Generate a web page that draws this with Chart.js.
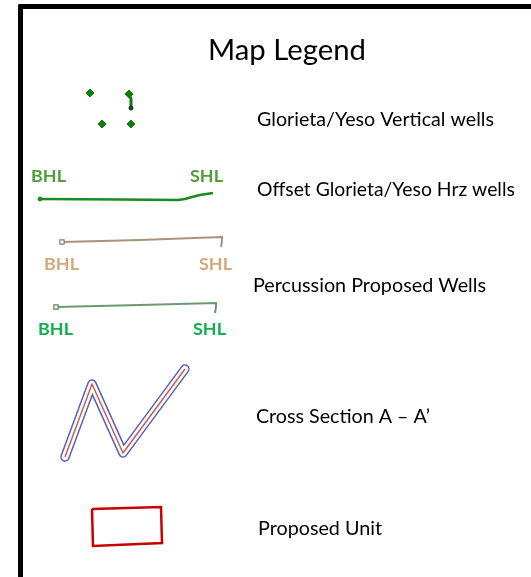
<!DOCTYPE html>
<html><head><meta charset="utf-8">
<script src="https://cdn.jsdelivr.net/npm/chart.js@4/dist/chart.umd.min.js"></script>
<style>
html,body{margin:0;padding:0;background:#fff;width:531px;height:577px;overflow:hidden}
#frame{position:absolute;left:18px;top:4px;width:513px;height:569px;border-left:5px solid #000;border-top:5px solid #000;border-bottom:2px solid #e4e4e4;border-top-left-radius:2px}
#wrap{position:absolute;left:0;top:0;width:531px;height:577px}
</style></head>
<body>
<div id="frame"></div>
<div id="wrap"><canvas id="c" width="531" height="577"></canvas></div>
<script>
// Legend symbols (diagram units: x 0..531, y 0..577 top-down)
const verticalWells = [{x:90,y:93},{x:102,y:124},{x:131,y:124},{x:129,y:94}];
const verticalStick = [{x:129,y:94},{x:131,y:99},{x:131,y:108}];
const offsetHrz = [{x:40,y:199},{x:120,y:199.5},{x:178,y:200},{x:185,y:199},{x:192,y:197},{x:200,y:195},{x:213,y:193}];
const percussionTan = [{x:62,y:242},{x:140,y:240},{x:222,y:237},{x:222,y:241},{x:221,y:247}];
const percussionGreen = [{x:56,y:307},{x:140,y:305},{x:216,y:303},{x:216,y:307},{x:215,y:313}];
const crossSection = [{x:65,y:457},{x:92,y:384},{x:123,y:453},{x:185,y:369}];
const proposedUnit = [{x:92,y:509},{x:161,y:507},{x:162,y:543},{x:93,y:546},{x:92,y:509}];

const title = "Map Legend";
const labels = ["Glorieta/Yeso Vertical wells","Offset Glorieta/Yeso Hrz wells","Percussion Proposed Wells","Cross Section A \u2013 A\u2019","Proposed Unit"];
const labelAnchors = [{x:257,y:126},{x:257,y:196},{x:253,y:292},{x:256,y:423},{x:258,y:535}];
const labelWidths = [237,258,233,174,124];
const endTags = ["BHL","SHL"];
const endTagAnchors = [
  [{x:31,y:182},{x:190,y:182}],
  [{x:44,y:270},{x:199,y:270}],
  [{x:38,y:335},{x:193,y:335}]
];
const endTagColors = ["#4f9e38","#d8a87c","#10b04e"];

const FONT = "Lato, 'Open Sans', sans-serif";

function fitFont(ctx, text, weight, target){
  ctx.font = weight+" 20px "+FONT;
  const fs = 20*target/ctx.measureText(text).width;
  ctx.font = weight+" "+fs.toFixed(2)+"px "+FONT;
}

const textPlugin = {
  id:'texts',
  afterDatasetsDraw(chart){
    const {ctx, scales:{x,y}} = chart;
    ctx.save();
    ctx.textBaseline='alphabetic';
    ctx.fillStyle='#000';
    fitFont(ctx, title, "normal", 158);
    ctx.textAlign='left';
    ctx.fillText(title, x.getPixelForValue(208), y.getPixelForValue(60));
    labels.forEach((t,i)=>{
      fitFont(ctx, t, "normal", labelWidths[i]);
      ctx.fillText(t, x.getPixelForValue(labelAnchors[i].x), y.getPixelForValue(labelAnchors[i].y));
    });
    endTagAnchors.forEach((pair,i)=>{
      ctx.fillStyle=endTagColors[i];
      pair.forEach((p,j)=>{
        fitFont(ctx, endTags[j], "bold", j===0?35:33);
        ctx.fillText(endTags[j], x.getPixelForValue(p.x), y.getPixelForValue(p.y));
      });
    });
    ctx.restore();
  }
};

const line = (data,color,width,order,extra={}) => Object.assign({data,order,showLine:true,borderColor:color,borderWidth:width,pointRadius:0,fill:false,tension:0}, extra);

new Chart(document.getElementById('c'),{
  type:'scatter',
  data:{datasets:[
    line(verticalStick,'#0a7a0a',3,5,{borderCapStyle:'round'}),
    {data:[verticalStick[2]],order:1,pointRadius:2,pointBackgroundColor:'#0a5a0a',pointBorderColor:'#222',pointBorderWidth:1},
    {data:verticalWells,order:2,pointStyle:'rectRot',pointRadius:4,pointBackgroundColor:'#0a800a',pointBorderColor:'#0a800a',pointBorderWidth:1},
    line(offsetHrz,'#1a8a22',2.5,5,{borderJoinStyle:'round'}),
    {data:[offsetHrz[0]],order:1,pointRadius:2,pointBackgroundColor:'#1a8a22',pointBorderColor:'#1a8a22'},
    line(percussionTan,'#a8937d',2,5),
    {data:[percussionTan[0]],order:1,pointStyle:'rect',pointRadius:3,pointBackgroundColor:'#fff',pointBorderColor:'#8c7a68',pointBorderWidth:1.2},
    line(percussionGreen,'#6c9a70',2,5),
    {data:[percussionGreen[0]],order:1,pointStyle:'rect',pointRadius:3,pointBackgroundColor:'#fff',pointBorderColor:'#5c7e60',pointBorderWidth:1.2},
    line(crossSection,'#5a5fc0',9.5,30,{borderJoinStyle:'round',borderCapStyle:'round'}),
    line(crossSection,'#ffffff',6.5,20,{borderJoinStyle:'round',borderCapStyle:'round'}),
    line(crossSection,'#c86050',1.5,10,{borderJoinStyle:'round'}),
    line(proposedUnit,'#c80000',2.5,5,{borderJoinStyle:'miter'})
  ]},
  options:{
    responsive:false,animation:false,
    layout:{padding:0,autoPadding:false},
    plugins:{legend:{display:false},tooltip:{enabled:false},title:{display:false}},
    scales:{
      x:{type:'linear',min:0,max:531,display:false},
      y:{type:'linear',min:0,max:577,reverse:true,display:false}
    }
  },
  plugins:[textPlugin]
});
</script>
</body></html>
